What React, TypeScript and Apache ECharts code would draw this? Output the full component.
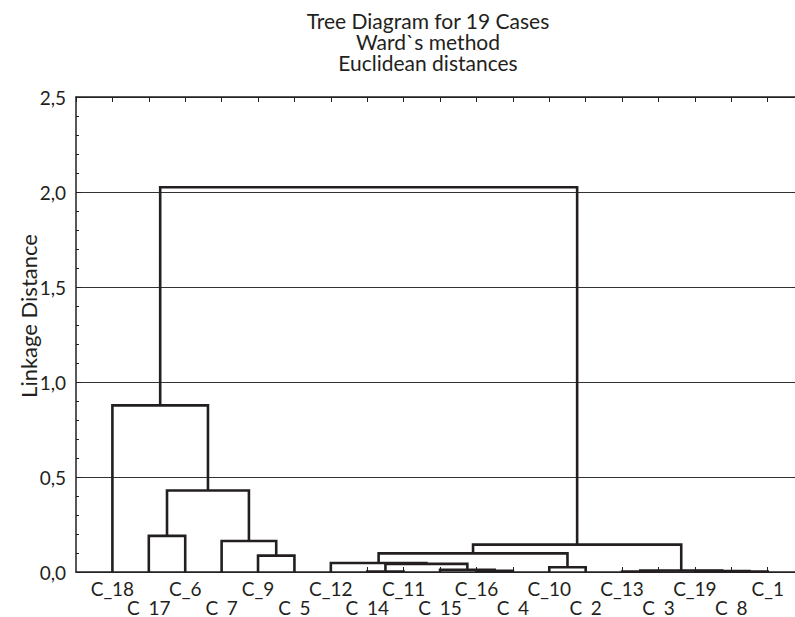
import React, { useEffect, useRef } from 'react';
import * as echarts from 'echarts';

const titleLines = ['Tree Diagram for 19 Cases', 'Ward`s method', 'Euclidean distances'];
const yAxisName = 'Linkage Distance';

// leaf order along the x axis
const leafLabels = [
  'C_18', 'C_17', 'C_6', 'C_7', 'C_9', 'C_5', 'C_12', 'C_14', 'C_11', 'C_15',
  'C_16', 'C_4', 'C_10', 'C_2', 'C_13', 'C_3', 'C_19', 'C_8', 'C_1',
];

// merges: [childA, childB, linkage distance]; ids 0..18 are leaves, 19+ are earlier merges
const merges: [number, number, number][] = [
  [7, 8, 0.002],    // 19: C_14 + C_11
  [17, 18, 0.002],  // 20: C_8 + C_1
  [14, 15, 0.003],  // 21: C_13 + C_3
  [10, 11, 0.006],  // 22: C_16 + C_4
  [16, 20, 0.005],  // 23: C_19 + (C_8,C_1)
  [21, 23, 0.008],  // 24
  [9, 22, 0.012],   // 25: C_15 + (C_16,C_4)
  [12, 13, 0.025],  // 26: C_10 + C_2
  [19, 25, 0.043],  // 27
  [6, 27, 0.047],   // 28: C_12 + ...
  [4, 5, 0.086],    // 29: C_9 + C_5
  [28, 26, 0.098],  // 30
  [30, 24, 0.144],  // 31
  [3, 29, 0.163],   // 32: C_7 + (C_9,C_5)
  [1, 2, 0.19],     // 33: C_17 + C_6
  [33, 32, 0.429],  // 34
  [0, 34, 0.877],   // 35: C_18 + ...
  [35, 31, 2.025],  // 36
];

const yMin = 0;
const yMax = 2.5;
const yInterval = 0.5;
const xMin = 0;
const xMax = 19.75;

const FONT = 'Lato, "Open Sans", sans-serif';
const INK = '#231f20';

export default function App() {
  const ref = useRef<HTMLDivElement>(null);

  useEffect(() => {
    if (!ref.current) return;
    const chart = echarts.init(ref.current, null, { renderer: 'svg' });

    const pos: number[] = leafLabels.map((_, i) => i + 1);
    const hgt: number[] = leafLabels.map(() => 0);
    const segs: { coords: number[][] }[] = [];
    merges.forEach(([a, b, h]) => {
      segs.push({
        coords: [
          [pos[a], hgt[a]],
          [pos[a], h],
          [pos[b], h],
          [pos[b], hgt[b]],
        ],
      });
      pos.push((pos[a] + pos[b]) / 2);
      hgt.push(h);
    });

    const xLabel = (v: number) => {
      const i = Math.round(v);
      if (Math.abs(v - i) > 1e-6 || i < 1 || i > leafLabels.length) return '';
      const lab = leafLabels[i - 1];
      return i % 2 === 1 ? lab : '\n' + lab;
    };

    chart.setOption({
      animation: false,
      backgroundColor: '#ffffff',
      grid: { left: 76, right: 0, top: 97, bottom: 45, containLabel: false },
      graphic: [
        {
          type: 'text',
          x: 428,
          y: 10,
          style: {
            text: titleLines.join('\n'),
            x: 0,
            y: 0,
            textAlign: 'center',
            textVerticalAlign: 'top',
            fill: INK,
            font: `21px ${FONT}`,
            lineHeight: 21,
          },
          silent: true,
        },
        {
          type: 'text',
          x: 28,
          y: 316,
          rotation: Math.PI / 2,
          style: {
            text: yAxisName,
            x: 0,
            y: 0,
            textAlign: 'center',
            textVerticalAlign: 'middle',
            fill: INK,
            font: `22px ${FONT}`,
          },
          silent: true,
        },
      ],
      xAxis: [
        {
          type: 'value',
          position: 'bottom',
          min: xMin,
          max: xMax,
          interval: 1,
          axisLine: { show: true, lineStyle: { color: INK, width: 1.5 } },
          axisTick: { show: true, inside: true, length: 5, lineStyle: { color: INK, width: 1 } },
          axisLabel: {
            formatter: xLabel,
            color: INK,
            fontFamily: FONT,
            fontSize: 19,
            lineHeight: 19,
            margin: 7,
            showMinLabel: false,
            showMaxLabel: false,
          },
          splitLine: { show: false },
        },
        {
          type: 'value',
          position: 'top',
          min: xMin,
          max: xMax,
          interval: 1,
          axisLine: { show: true, lineStyle: { color: INK, width: 1.5 } },
          axisTick: { show: true, inside: true, length: 5, lineStyle: { color: INK, width: 1 } },
          axisLabel: { show: false },
          splitLine: { show: false },
        },
      ],
      yAxis: {
        type: 'value',
        min: yMin,
        max: yMax,
        interval: yInterval,
        axisLine: { show: true, lineStyle: { color: INK, width: 1.5 } },
        axisTick: { show: true, inside: true, length: 5, lineStyle: { color: INK } },
        minorTick: { show: true, splitNumber: 5, length: 3, lineStyle: { color: INK } },
        axisLabel: {
          formatter: (v: number) => v.toFixed(1).replace('.', ','),
          color: INK,
          fontFamily: FONT,
          fontSize: 19,
          margin: 10,
        },
        splitLine: { show: true, lineStyle: { color: '#333333', width: 1.2 } },
      },
      series: [
        {
          type: 'lines',
          coordinateSystem: 'cartesian2d',
          polyline: true,
          silent: true,
          z: 5,
          lineStyle: { color: INK, width: 2.6, opacity: 1 },
          data: segs,
        },
      ],
    });

    return () => chart.dispose();
  }, []);

  return (
    <div
      ref={ref}
      style={{ position: 'fixed', left: 0, top: 0, width: 795, height: 617 }}
    />
  );
}
